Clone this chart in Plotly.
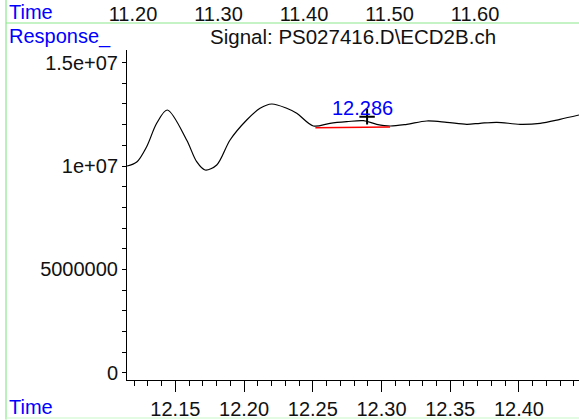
import plotly.graph_objects as go

# chromatogram trace (time in min, response)
time = [12.1148, 12.1219, 12.1291, 12.1364, 12.1441, 12.1582, 12.1655, 12.1716, 12.1801,
        12.1898, 12.2019, 12.2116, 12.2201, 12.2310, 12.2383, 12.2504, 12.2625, 12.2747,
        12.2868, 12.2965, 12.3062, 12.3184, 12.3329, 12.3475, 12.3620, 12.3717,
        12.3839, 12.4008, 12.4154, 12.4299, 12.4437]
response = [1.0000e7, 1.0194e7, 1.0934e7, 1.2066e7, 1.2709e7, 1.1258e7, 1.0208e7, 0.9806e7,
            1.0048e7, 1.1258e7, 1.2225e7, 1.2791e7, 1.2999e7, 1.2791e7, 1.2550e7, 1.1935e7,
            1.2066e7, 1.2143e7, 1.2192e7, 1.2017e7, 1.1935e7, 1.2017e7, 1.2177e7, 1.2114e7,
            1.2017e7, 1.2066e7, 1.2114e7, 1.2017e7, 1.2066e7, 1.2259e7, 1.2467e7]

# integration baseline and peak apex
baseline_time = [12.2519, 12.3062]
baseline_resp = [1.1853e7, 1.1887e7]
apex_time = [12.2895]
apex_resp = [1.2385e7]
peak_label = "12.286"

y_tickvals = [0, 5e6, 1e7, 1.5e7]
y_ticktext = ["0", "5000000", "1e+07", "1.5e+07"]
top_tickvals = [11.2, 11.3, 11.4, 11.5, 11.6]

FONT = "Liberation Sans, Arial, sans-serif"
BLUE = "#0000ff"
GREEN = "#8be88b"

fig = go.Figure()
fig.add_trace(go.Scatter(x=time, y=response, mode="lines",
                         line=dict(color="black", width=1.2, shape="spline", smoothing=0.9)))
fig.add_trace(go.Scatter(x=baseline_time, y=baseline_resp, mode="lines",
                         line=dict(color="red", width=1.5)))
fig.add_trace(go.Scatter(x=apex_time, y=apex_resp, mode="markers",
                         marker=dict(symbol="cross-thin", size=11,
                                     line=dict(color="black", width=2))))
# dummy trace to activate the top (overview) time axis
fig.add_trace(go.Scatter(x=top_tickvals, y=[None] * len(top_tickvals), xaxis="x2",
                         mode="lines", hoverinfo="skip"))

fig.update_layout(
    width=579, height=420,
    margin=dict(l=127, r=0, t=50, b=40),
    paper_bgcolor="white", plot_bgcolor="white",
    showlegend=False,
    font=dict(family=FONT, size=20, color="#111111"),
    xaxis=dict(range=[12.1148, 12.4437], tickmode="linear", tick0=12.0, dtick=0.05,
               tickformat=".2f", ticks="outside", ticklen=11, tickcolor="black",
               showline=True, linecolor="black", linewidth=1, showgrid=False,
               zeroline=False, automargin=False,
               minor=dict(tickmode="linear", tick0=12.0, dtick=0.01, ticks="outside",
                          ticklen=5, tickcolor="black")),
    xaxis2=dict(overlaying="x", side="top", anchor="y", range=[11.193, 11.7216],
                tickmode="array", tickvals=top_tickvals,
                ticktext=["%.2f" % v for v in top_tickvals],
                ticks="", showline=False, showgrid=False, zeroline=False,
                ticklabelstandoff=24, automargin=False),
    yaxis=dict(range=[-3.5e5, 1.561e7], tickmode="array", tickvals=y_tickvals,
               ticktext=y_ticktext, ticks="outside", ticklen=4, tickcolor="black",
               showline=True, linecolor="black", linewidth=1, showgrid=False,
               zeroline=False, automargin=False,
               minor=dict(tickmode="linear", tick0=0, dtick=1e6, ticks="outside",
                          ticklen=4, tickcolor="black")),
)

# frame lines of the report page
fig.add_shape(type="line", xref="paper", yref="paper", x0=-0.2677, x1=1.0, y0=1.0818, y1=1.0818,
              line=dict(color=GREEN, width=1.2))
fig.add_shape(type="line", xref="paper", yref="paper", x0=-0.2677, x1=-0.2677, y0=-0.12, y1=1.16,
              line=dict(color=GREEN, width=1.2))
fig.add_shape(type="line", xref="paper", yref="paper", x0=-0.2677, x1=1.0, y0=-0.1152, y1=-0.1152,
              line=dict(color="#c8f5c8", width=1.2))

fig.add_annotation(text="Time", xref="paper", yref="paper", x=-0.2655, y=1.1152,
                   xanchor="left", yanchor="middle", showarrow=False,
                   font=dict(color=BLUE, size=20))
fig.add_annotation(text="Response_", xref="paper", yref="paper", x=-0.2655, y=1.0424,
                   xanchor="left", yanchor="middle", showarrow=False,
                   font=dict(color=BLUE, size=20))
fig.add_annotation(text="Time", xref="paper", yref="paper", x=-0.2655, y=-0.0818,
                   xanchor="left", yanchor="middle", showarrow=False,
                   font=dict(color=BLUE, size=20))
fig.add_annotation(text="Signal: PS027416.D\\ECD2B.ch", xref="paper", yref="paper",
                   x=0.5, y=1.0424, xanchor="center", yanchor="middle", showarrow=False,
                   font=dict(color="#111111", size=20.5))
fig.add_annotation(text=peak_label, x=12.2862, y=1.2806e7, xanchor="center",
                   yanchor="middle", showarrow=False, font=dict(color=BLUE, size=20))

# the page's default body margin would shift the figure by 8px
fig.write_html("out.html", config={"displayModeBar": False},
               post_script="document.body.style.margin='0';")
